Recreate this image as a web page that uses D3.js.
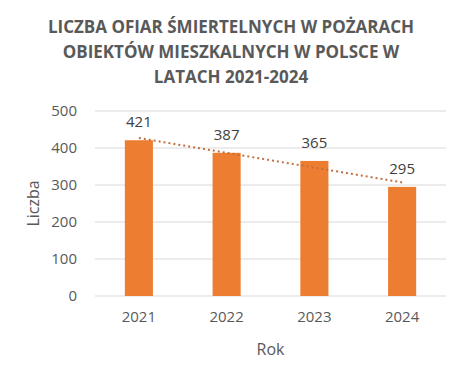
<!DOCTYPE html>
<html>
<head>
<meta charset="utf-8">
<script src="https://cdn.jsdelivr.net/npm/d3@7"></script>
<style>
  body { margin: 0; background: #fff; }
  text { font-family: "Open Sans", "Liberation Sans", sans-serif; }
</style>
</head>
<body>
<div id="chart"></div>
<script>
// data
const years = ["2021", "2022", "2023", "2024"];
const victims = [421, 387, 365, 295];
const yTicks = [0, 100, 200, 300, 400, 500];
const titleLines = ["LICZBA OFIAR ŚMIERTELNYCH W POŻARACH", "OBIEKTÓW MIESZKALNYCH W POLSCE W", "LATACH 2021-2024"];

const W = 462, H = 378;
const margin = {top: 111, right: 16, bottom: 82, left: 95};
const width = W - margin.left - margin.right;
const height = H - margin.top - margin.bottom;

const svg = d3.select("#chart").append("svg")
    .attr("width", W)
    .attr("height", H);

// title
svg.append("g")
    .selectAll("text")
    .data(titleLines)
    .enter().append("text")
    .attr("x", 231)
    .attr("y", (d, i) => 33 + i * 25)
    .attr("text-anchor", "middle")
    .attr("font-size", 17)
    .attr("font-weight", "bold")
    .attr("fill", "#595959")
    .text(d => d);

const g = svg.append("g")
    .attr("transform", `translate(${margin.left}, ${margin.top})`);

// scales
const x = d3.scaleBand()
    .domain(years)
    .range([0, width])
    .paddingInner(0.68)
    .paddingOuter(0.34);

const y = d3.scaleLinear()
    .domain([0, 500])
    .range([height, 0]);

// gridlines
g.append("g")
    .selectAll("line")
    .data(yTicks)
    .enter().append("line")
    .attr("x1", 0)
    .attr("x2", width)
    .attr("y1", d => y(d))
    .attr("y2", d => y(d))
    .attr("stroke", "#d9d9d9")
    .attr("stroke-width", 1.2);

// y axis
const yAxis = d3.axisLeft(y).tickValues(yTicks).tickSize(0).tickPadding(18);
g.append("g").call(yAxis)
    .call(s => s.select(".domain").remove())
    .selectAll("text")
    .attr("font-size", 15)
    .attr("fill", "#595959");

// x axis
const xAxis = d3.axisBottom(x).tickSize(0).tickPadding(15);
g.append("g")
    .attr("transform", `translate(0, ${height})`)
    .call(xAxis)
    .call(s => s.select(".domain").remove())
    .selectAll("text")
    .attr("font-size", 15)
    .attr("fill", "#595959");

// bars
g.selectAll(".bar")
    .data(victims)
    .enter().append("rect")
    .attr("class", "bar")
    .attr("x", (d, i) => x(years[i]))
    .attr("y", d => y(d))
    .attr("width", x.bandwidth())
    .attr("height", d => height - y(d))
    .attr("fill", "#ED7D31");

// value labels
g.selectAll(".label")
    .data(victims)
    .enter().append("text")
    .attr("class", "label")
    .attr("x", (d, i) => x(years[i]) + x.bandwidth() / 2)
    .attr("y", d => y(d) - 13)
    .attr("text-anchor", "middle")
    .attr("font-size", 15)
    .attr("fill", "#404040")
    .text(d => d);

// linear trendline (least squares)
const n = victims.length;
const xs = d3.range(1, n + 1);
const mx = d3.mean(xs), my = d3.mean(victims);
const slope = d3.sum(xs, (v, i) => (v - mx) * (victims[i] - my)) / d3.sum(xs, v => (v - mx) ** 2);
const icpt = my - slope * mx;
const trend = [xs[0], xs[n - 1]].map(v => ({yr: years[v - 1], val: icpt + slope * v}));

g.append("path")
    .datum(trend)
    .attr("d", d3.line()
        .x(d => x(d.yr) + x.bandwidth() / 2)
        .y(d => y(d.val)))
    .attr("fill", "none")
    .attr("stroke", "#C0703F")
    .attr("stroke-width", 2)
    .attr("stroke-dasharray", "2,3");

// axis titles
svg.append("text")
    .attr("x", margin.left + width / 2)
    .attr("y", 355)
    .attr("text-anchor", "middle")
    .attr("font-size", 16)
    .attr("fill", "#595959")
    .text("Rok");

svg.append("text")
    .attr("transform", `translate(39, ${margin.top + height / 2}) rotate(-90)`)
    .attr("text-anchor", "middle")
    .attr("font-size", 16)
    .attr("fill", "#595959")
    .text("Liczba");
</script>
</body>
</html>
